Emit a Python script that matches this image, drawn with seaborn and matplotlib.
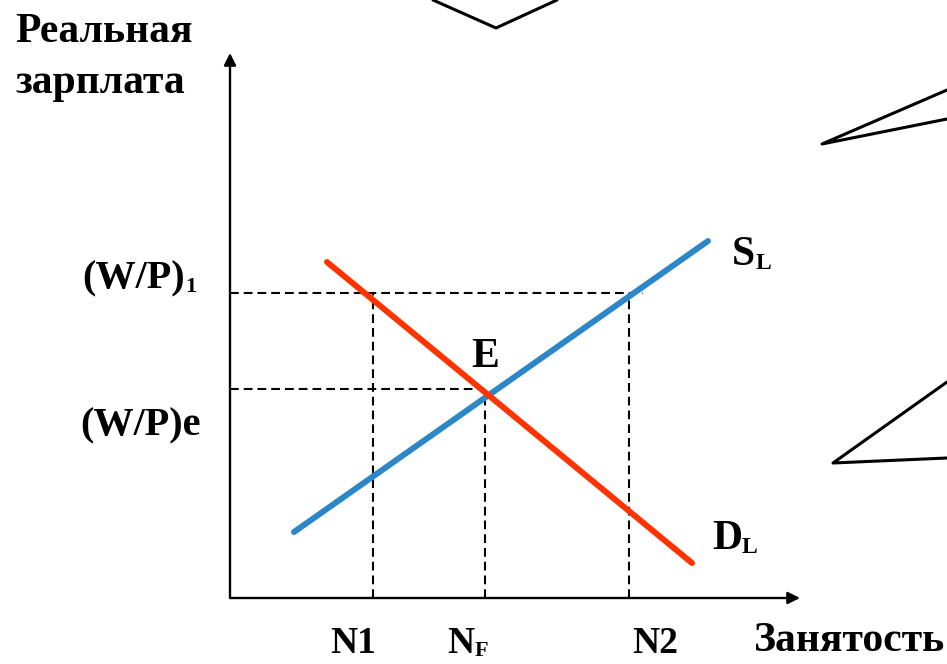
import pandas as pd
import seaborn as sns
import matplotlib.pyplot as plt

# labour supply and labour demand (end points of the straight lines)
supply_x = [0.64, 4.78]
supply_y = [0.66, 3.57]
demand_x = [0.97, 4.62]
demand_y = [3.36, 0.35]

# marked employment levels and wage levels
n_levels = [1.43, 2.55, 3.99]      # N1, NF, N2
w_high = 3.05                      # (W/P)1
w_eq = 2.09                        # (W/P)e
w_high_right = 4.13                # end of the (W/P)1 guide line

# decorative callout tails round the chart
callouts = [
    ([2.03, 2.66, 3.27], [5.98, 5.70, 5.98]),
    ([7.17, 5.92, 7.17], [5.08, 4.54, 4.79]),
    ([7.17, 6.03, 7.17], [2.16, 1.35, 1.40]),
]

sns.set_style("white")
plt.rcParams['font.family'] = ['Liberation Serif', 'DejaVu Serif']
plt.rcParams['font.weight'] = 'bold'
plt.rcParams['text.color'] = 'black'

df = pd.concat([
    pd.DataFrame({'x': supply_x, 'y': supply_y, 'curve': 'S'}),
    pd.DataFrame({'x': demand_x, 'y': demand_y, 'curve': 'D'}),
])

fig = plt.figure(figsize=(9.47, 6.64), dpi=100)
ax = fig.add_axes([0, 0, 1, 1])
ax.set_xlim(-2.30, 7.17)
ax.set_ylim(-0.66, 5.98)
ax.axis('off')

# guide lines
dash = dict(color='black', lw=1.5, linestyle=(0, (4.2, 2.4)))
ax.plot([0, w_high_right], [w_high, w_high], **dash)
ax.plot([0, n_levels[1]], [w_eq, w_eq], **dash)
ax.plot([n_levels[0], n_levels[0]], [0, w_high], **dash)
ax.plot([n_levels[1], n_levels[1]], [0, w_eq], **dash)
ax.plot([n_levels[2], n_levels[2]], [0, w_high], **dash)

sns.lineplot(data=df, x='x', y='y', hue='curve', palette={'S': '#2b87c8', 'D': '#ff3300'},
             linewidth=4.3, legend=False, ax=ax, sort=False)

# axes with arrows
arrow = dict(arrowstyle='-|>', lw=1.7, color='black', mutation_scale=18, shrinkA=0, shrinkB=0)
ax.annotate('', xy=(5.70, 0), xytext=(0, 0), arrowprops=arrow)
ax.annotate('', xy=(0, 5.45), xytext=(0, 0), arrowprops=arrow)

for xs, ys in callouts:
    ax.plot(xs, ys, color='black', lw=2.2, clip_on=True)


def label(x, y, main, small, size, small_size, ha='left'):
    t = ax.text(x, y, main, fontsize=size, ha=ha, va='baseline')
    if small:
        ax.annotate(small, xy=(1, 0), xycoords=t, fontsize=small_size, ha='left', va='bottom')


ax.text(-2.15, 5.85, 'Реальная\nзарплата', fontsize=30, ha='left', va='top', linespacing=1.45)
label(-0.45, w_high + 0.05, '(W/P)', '1', 29, 16, ha='right')
label(-1.50, w_eq - 0.46, '(W/P)e', '', 29, 16)
label(5.02, 3.33, 'S', 'L', 30, 17)
label(4.82, 0.49, 'D', 'L', 30, 17)
ax.text(n_levels[1], 2.31, 'E', fontsize=30, ha='center', va='baseline')

label(1.00, -0.55, 'N1', '', 27, 16)
label(2.17, -0.55, 'N', 'F', 27, 16)
label(4.02, -0.55, 'N2', '', 27, 16)
ax.text(7.15, -0.53, 'Занятость', fontsize=30, ha='right', va='baseline')

plt.savefig('out.png', dpi=100)
